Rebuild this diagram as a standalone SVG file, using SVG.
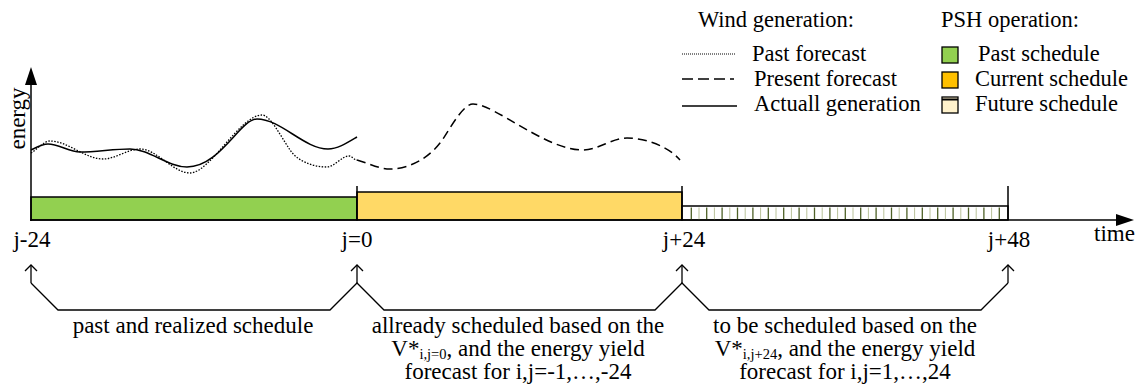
<svg xmlns="http://www.w3.org/2000/svg" width="1137" height="387" viewBox="0 0 1137 387">
<defs>
<style>
text{font-family:"Liberation Serif","Times New Roman",serif;font-size:23px;fill:#000}
.lg{font-size:22.5px}
.c{text-anchor:middle}
.sub{font-size:14.5px}
.ax{stroke:#000;stroke-width:1.5;fill:none}
.br{stroke:#000;stroke-width:1.3;fill:none}
.solid{stroke:#000;stroke-width:1.5;fill:none}
.dot{stroke:#000;stroke-width:1.3;fill:none;stroke-dasharray:1.5 1.5}
.dash{stroke:#000;stroke-width:1.5;fill:none;stroke-dasharray:9 5}
.cell{stroke:#4f6228;stroke-width:1.3}
.cellL{stroke:#b9c29a;stroke-width:1}
.bar{stroke:#000;stroke-width:1.5}
.lb{stroke:#000;stroke-width:1.3}
</style>
<marker id="fa" markerWidth="18" markerHeight="12" refX="0" refY="6" orient="auto" markerUnits="userSpaceOnUse">
<path d="M0,0 L18,6 L0,12 Z" fill="#000"/>
</marker>
<marker id="oh" markerWidth="14" markerHeight="14" refX="7" refY="7" orient="auto" markerUnits="userSpaceOnUse">
<path d="M1,1 L7,7 L1,13" fill="none" stroke="#000" stroke-width="1.3"/>
</marker>
</defs>
<rect width="1137" height="387" fill="#fff"/>

<g id="schedule-bars">
<rect id="past-bar" x="31" y="197" width="326" height="23" fill="#92d050" class="bar"/>
<rect id="current-bar" x="357" y="192" width="325" height="28" fill="#ffd966" class="bar"/>
<g id="future-bar">
<rect x="682" y="206" width="326" height="14" fill="#fff" class="bar"/>
<path class="cellL" d="M699,207.5V220M714.4,207.5V220M729.8,207.5V220M745.2,207.5V220M760.6,207.5V220M776,207.5V220M791.4,207.5V220M806.8,207.5V220M822.2,207.5V220M837.6,207.5V220M853,207.5V220M868.4,207.5V220M883.8,207.5V220M899.2,207.5V220M914.6,207.5V220M930,207.5V220M945.4,207.5V220M960.8,207.5V220M976.2,207.5V220M991.6,207.5V220"/>
<path class="cell" d="M691.3,207.5V220M706.7,207.5V220M722.1,207.5V220M737.5,207.5V220M752.9,207.5V220M768.3,207.5V220M783.7,207.5V220M799.1,207.5V220M814.5,207.5V220M829.9,207.5V220M845.3,207.5V220M860.7,207.5V220M876.1,207.5V220M891.5,207.5V220M906.9,207.5V220M922.3,207.5V220M937.7,207.5V220M953.1,207.5V220M968.5,207.5V220M983.9,207.5V220M999.3,207.5V220"/>
</g>
</g>

<g id="axes">
<path class="ax" d="M31,221 V85" marker-end="url(#fa)"/>
<path class="ax" d="M30,220 H1116" marker-end="url(#fa)"/>
<path class="ax" d="M357,186V220 M682,186V220 M1008,186V220"/>
<text transform="translate(25,118.5) rotate(-90)" class="c">energy</text>
<text x="1094" y="241">time</text>
<text x="32" y="247" class="c">j-24</text>
<text x="357" y="247" class="c">j=0</text>
<text x="684" y="247" class="c">j+24</text>
<text x="1009" y="247" class="c">j+48</text>
</g>

<g id="curves">
<path id="actual" class="solid" d="M31,150 C36.7,147.2 42.3,144 48,144 C58.7,144 69.3,152 80,152 C96.7,152 113.3,149 130,149 C149,149 168,167 187,167 C220,167 240,119 257,119 C280.7,119 304.3,149 328,149 C337.7,149 347.3,142.8 357,137"/>
<path id="past-forecast" class="dot" d="M31,153 C37.3,149.2 43.7,141 50,141 C67.7,141 85.3,159 103,159 C115.3,159 127.7,149 140,149 C156.7,149 173.3,173 190,173 C210,173 240,115 262,115 C270,115 280,135 290,150 C297,160.5 312,167 327,167 C334.3,167 341.7,156 349,156 C352,156 354,160 357,160"/>
<path id="present-forecast" class="dash" d="M357,160 C368,163 379,169 390,169 C405,169 425,162 440,143 C448,133 462,104 473,104 C495,104 545,150 583,150 C598,150 612,138 627,138 C645,138 668,146 680,160"/>
</g>

<g id="legend">
<text x="698" y="27" class="lg">Wind generation:</text>
<path d="M682,54 H736" stroke="#000" stroke-width="1" stroke-dasharray="1 1"/>
<text x="752" y="61" class="lg">Past forecast</text>
<path d="M682,79 H734" stroke="#000" stroke-width="1.5" stroke-dasharray="11 5"/>
<text x="754" y="86" class="lg">Present forecast</text>
<path d="M682,106 H737" stroke="#000" stroke-width="1.5"/>
<text x="754" y="111" class="lg">Actuall generation</text>
<text x="941" y="27" class="lg">PSH operation:</text>
<rect x="942" y="47" width="16" height="16" fill="#92d050" class="lb"/>
<text x="978" y="61" class="lg">Past schedule</text>
<rect x="942" y="72" width="16" height="16" fill="#ffc000" class="lb"/>
<text x="975" y="86" class="lg">Current schedule</text>
<rect x="942" y="97" width="16" height="16" fill="#fff2cc" class="lb"/>
<path d="M942,99.5 H958" stroke="#000" stroke-width="2"/>
<text x="975" y="111" class="lg">Future schedule</text>
</g>

<g id="connectors">
<path class="br" d="M31,283 L58,310 H330 L357,283 L384,310 H655 L682,283 L709,310 H981 L1008,283"/>
<path class="br" d="M31,283 V265" marker-end="url(#oh)"/>
<path class="br" d="M357,283 V265" marker-end="url(#oh)"/>
<path class="br" d="M682,283 V265" marker-end="url(#oh)"/>
<path class="br" d="M1008,283 V265" marker-end="url(#oh)"/>
</g>

<g id="period-past">
<text x="193" y="333" class="c">past and realized schedule</text>
</g>
<g id="period-current">
<text x="518" y="333" class="c">allready scheduled based on the</text>
<text x="518" y="356" class="c">V*<tspan class="sub" dy="3">i,j=0</tspan><tspan dy="-3">, and the energy yield</tspan></text>
<text x="518" y="379" class="c">forecast for i,j=-1,…,-24</text>
</g>
<g id="period-future">
<text x="845" y="333" class="c">to be scheduled based on the</text>
<text x="845" y="356" class="c">V*<tspan class="sub" dy="3">i,j+24</tspan><tspan dy="-3">, and the energy yield</tspan></text>
<text x="845" y="379" class="c">forecast for i,j=1,…,24</text>
</g>
</svg>
